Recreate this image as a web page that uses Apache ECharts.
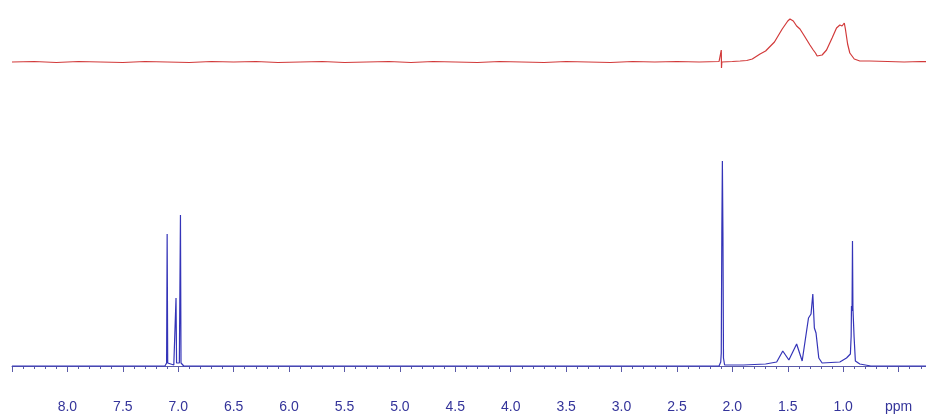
<!DOCTYPE html>
<html>
<head>
<meta charset="utf-8">
<title>NMR spectrum</title>
<script src="https://cdn.jsdelivr.net/npm/echarts@6/dist/echarts.min.js"></script>
<style>
  html, body { margin: 0; padding: 0; background: #fff; }
  #chart { width: 926px; height: 417px; }
</style>
</head>
<body>
<div id="chart"></div>
<script>
// top trace (red): [ppm, intensity]
var redTrace = [
    [8.50, 0], [8.3, 0.5], [8.1, -0.5], [7.9, 0.5], [7.7, 0], [7.5, -0.5], [7.3, 0.5], [7.1, 0],
    [6.9, -0.5], [6.7, 0.5], [6.5, 0], [6.3, 0.5], [6.1, -0.5], [5.9, 0], [5.7, 0.5], [5.5, -0.5],
    [5.3, 0], [5.1, 0.5], [4.9, -0.5], [4.7, 0.5], [4.5, 0], [4.3, -0.5], [4.1, 0.5], [3.9, 0],
    [3.7, -0.5], [3.5, 0.5], [3.3, 0], [3.1, -0.5], [2.9, 0.5], [2.7, 0], [2.5, 0.5], [2.3, 0],
    [2.12, 0.5], [2.105, 0], [2.10, 12], [2.098, -6], [2.095, 0], [2.0, 0.5], [1.93, 1], [1.87, 1.5],
    [1.82, 3], [1.75, 8], [1.70, 11], [1.62, 20], [1.55, 33], [1.50, 41], [1.48, 43], [1.45, 41],
    [1.42, 36], [1.39, 33], [1.35, 26], [1.30, 17], [1.27, 12], [1.25, 9], [1.24, 11], [1.235, 6],
    [1.22, 5], [1.19, 7], [1.15, 12], [1.10, 24], [1.06, 34], [1.03, 37], [1.01, 36], [0.99, 39],
    [0.98, 33], [0.96, 18], [0.94, 9], [0.90, 3], [0.85, 1], [0.76, 1], [0.6, 0.5], [0.45, 0],
    [0.3, 0.5], [0.0, 0]
];

// bottom trace (blue): [ppm, intensity]
var blueTrace = [
    [8.50, 0], [7.20, 0], [7.12, 0], [7.105, 3], [7.10, 132], [7.095, 3], [7.04, 1], [7.025, 3],
    [7.02, 68], [7.015, 3], [6.99, 3], [6.98, 151], [6.975, 3], [6.95, 0], [2.20, 0], [2.12, 0],
    [2.105, 4], [2.10, 13], [2.095, 133], [2.09, 205], [2.085, 133], [2.08, 8], [2.07, 1], [1.90, 1],
    [1.70, 2], [1.60, 4], [1.545, 15], [1.49, 6], [1.42, 22], [1.37, 5], [1.313, 48], [1.29, 52],
    [1.274, 72], [1.26, 38], [1.245, 33], [1.22, 8], [1.19, 3], [1.03, 4], [0.97, 8], [0.935, 12],
    [0.928, 30], [0.925, 60], [0.92, 55], [0.916, 125], [0.912, 58], [0.905, 60], [0.902, 30],
    [0.89, 5], [0.85, 2], [0.75, 0], [0.0, 0]
];

var ppmMin = 0;
var ppmMax = 8.5;
var unitLabel = 'ppm';

var myChart = echarts.init(document.getElementById('chart'));
var option = {
    animation: false,
    grid: [
        { left: 12, width: 942, top: 10, height: 60, outerBoundsMode: 'none', containLabel: false },
        { left: 12, width: 942, top: 150, height: 234, outerBoundsMode: 'none', containLabel: false }
    ],
    xAxis: [
        {
            gridIndex: 0,
            type: 'value',
            inverse: true,
            min: ppmMin,
            max: ppmMax,
            show: false
        },
        {
            gridIndex: 1,
            type: 'value',
            inverse: true,
            min: ppmMin,
            max: ppmMax,
            interval: 0.5,
            splitLine: { show: false },
            axisLine: { lineStyle: { color: '#5a5aa8', width: 1 } },
            axisTick: { length: 6, lineStyle: { color: '#5a5aa8' } },
            minorTick: { show: true, splitNumber: 5, length: 3, lineStyle: { color: '#5a5aa8' } },
            axisLabel: {
                color: '#34349a',
                fontSize: 14,
                fontFamily: 'Liberation Sans, Arial, sans-serif',
                margin: 16,
                showMinLabel: true,
                showMaxLabel: false,
                formatter: function (v) {
                    if (Math.abs(v - 0.5) < 1e-6) return unitLabel;
                    if (v < 0.9 || v > 8.1) return '';
                    return v.toFixed(1);
                }
            }
        }
    ],
    yAxis: [
        { gridIndex: 0, type: 'value', min: -8, max: 52, show: false },
        { gridIndex: 1, type: 'value', min: -18, max: 216, show: false }
    ],
    series: [
        {
            name: 'top',
            type: 'line',
            xAxisIndex: 0,
            yAxisIndex: 0,
            showSymbol: false,
            lineStyle: { color: '#d23a3a', width: 1.2 },
            data: redTrace
        },
        {
            name: 'bottom',
            type: 'line',
            xAxisIndex: 1,
            yAxisIndex: 1,
            showSymbol: false,
            lineStyle: { color: '#3434b8', width: 1.2 },
            data: blueTrace
        }
    ]
};
myChart.setOption(option);
</script>
</body>
</html>
